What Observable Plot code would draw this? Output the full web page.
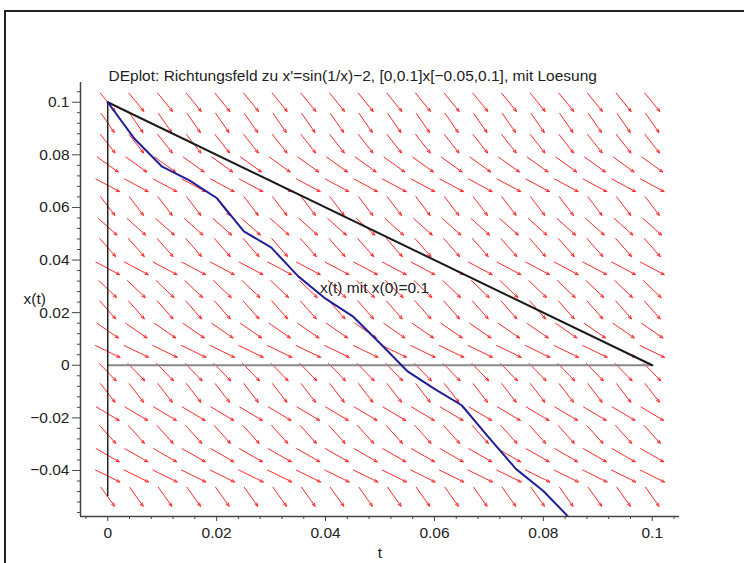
<!DOCTYPE html>
<html><head><meta charset="utf-8">
<script src="https://cdn.jsdelivr.net/npm/d3@7"></script>
<script src="https://cdn.jsdelivr.net/npm/@observablehq/plot@0.6"></script>
<style>
html,body{margin:0;padding:0;background:#fff;}
#wrap{position:relative;width:744px;height:563px;overflow:hidden;background:#fff;}
#bt{position:absolute;left:4px;top:10px;right:0;height:2px;background:#222;}
#bl{position:absolute;left:4px;top:10px;bottom:0;width:2px;background:#222;}
#chart{position:absolute;left:0;top:0;}
</style></head><body><div id="wrap"><div id="chart"></div><div id="bt"></div><div id="bl"></div></div>
<script>
// Direction field grid (t columns, x rows) and slope x' for each row
const fieldT = [0, 0.00526, 0.01053, 0.01579, 0.02105, 0.02632, 0.03158, 0.03684, 0.04211, 0.04737,
  0.05263, 0.05789, 0.06316, 0.06842, 0.07368, 0.07895, 0.08421, 0.08947, 0.09474, 0.1];
const fieldX = [-0.05, -0.04211, -0.03421, -0.02632, -0.01842, -0.01053, -0.00263, 0.00526, 0.01316, 0.02105,
  0.02895, 0.03684, 0.04474, 0.05263, 0.06053, 0.06842, 0.07632, 0.08421, 0.09211, 0.1];
const fieldSlope = [-2.913, -1.018, -1.183, -2.296, -1.230, -2.683, -2.132, -1.002, -1.434, -2.368,
  -1.987, -1.095, -2.354, -1.850, -2.727, -1.113, -1.488, -2.637, -2.990, -2.544];

// numeric solution x(t), x(0)=0.1
const solT = [0, 0.005, 0.01, 0.015, 0.02, 0.025, 0.03, 0.035, 0.04, 0.045, 0.05, 0.055, 0.06, 0.065, 0.07, 0.075, 0.08, 0.085];
const solX = [0.1, 0.0859, 0.0755, 0.0703, 0.0636, 0.0509, 0.0448, 0.0338, 0.0253, 0.0186, 0.0084, -0.0022, -0.0090, -0.0152, -0.0275, -0.0395, -0.0478, -0.0585];

// straight black line
const lineT = [0, 0.1];
const lineX = [0.1, 0];

const xTicks = [0, 0.02, 0.04, 0.06, 0.08, 0.1];
const yTicks = [-0.04, -0.02, 0, 0.02, 0.04, 0.06, 0.08, 0.1];
const tDomain = [-0.005, 0.105];
const xDomain = [-0.0575, 0.1075];

const titleText = "DEplot: Richtungsfeld zu x'=sin(1/x)\u22122, [0,0.1]x[\u22120.05,0.1], mit Loesung";
const curveLabel = "x(t) mit x(0)=0.1";
const curveLabelT = 0.049, curveLabelX = 0.0295;

// build arrows (normalized to view ranges, like Maple's dfieldplot)
const tSpan = 0.1, xSpan = 0.15, S = 0.054;
const arrows = [];
fieldX.forEach((x, i) => {
  const f = fieldSlope[i];
  const a = 1 / tSpan, b = f / xSpan, n = Math.hypot(a, b);
  const dt = S * (a / n) * tSpan, dx = S * (b / n) * xSpan;
  fieldT.forEach(t => arrows.push({x1: t - dt / 2, x2: t + dt / 2, y1: x - dx / 2, y2: x + dx / 2}));
});
const sol = solT.map((t, i) => ({t, x: solX[i]}));
const line = lineT.map((t, i) => ({t, x: lineX[i]}));

const xMinor = d3.range(-4, 106, 4).map(v => v / 1000).filter(v => Math.abs(v * 50 - Math.round(v * 50)) > 1e-6);
const yMinor = d3.range(-56, 106, 4).map(v => v / 1000).filter(v => Math.abs(v * 50 - Math.round(v * 50)) > 1e-6);
const fmt = d => (d < 0 ? "\u2212" + String(Math.abs(d)) : String(d));
const FS = 15.5;

const chart = Plot.plot({
  width: 744, height: 563,
  marginLeft: 80, marginRight: 65, marginTop: 82, marginBottom: 47,
  x: {domain: tDomain, label: null},
  y: {domain: xDomain, label: null},
  style: {fontFamily: "'Liberation Sans', Arial, Helvetica, sans-serif", fontSize: FS + "px", color: "#222", background: "transparent"},
  marks: [
    Plot.arrow(arrows, {x1: "x1", y1: "y1", x2: "x2", y2: "y2", stroke: "#ff2a2a", strokeWidth: 1, headLength: 5, headAngle: 45}),
    Plot.ruleY([0], {x1: fieldT[0], x2: fieldT[fieldT.length - 1], stroke: "#888", strokeWidth: 2}),
    Plot.ruleX([0], {y1: fieldX[0], y2: fieldX[fieldX.length - 1], stroke: "#222", strokeWidth: 1.5}),
    Plot.line(line, {x: "t", y: "x", stroke: "#1a1a1a", strokeWidth: 2}),
    Plot.line(sol, {x: "t", y: "x", stroke: "#1f1f9c", strokeWidth: 2, clip: true}),
    Plot.text([curveLabel], {x: () => curveLabelT, y: () => curveLabelX, text: d => d, fill: "#222", fontSize: FS}),
    Plot.ruleX([tDomain[0]], {stroke: "#444", strokeWidth: 1.5}),
    Plot.ruleY([xDomain[0]], {stroke: "#444", strokeWidth: 1.5}),
    Plot.axisY(yTicks, {anchor: "left", tickSize: 8, tickPadding: 3, tickFormat: fmt, stroke: "#444", fill: "#222", fontSize: FS, label: null}),
    Plot.axisY(yMinor, {anchor: "left", tickSize: 3, tickFormat: () => "", stroke: "#444", label: null}),
    Plot.axisX(xTicks, {anchor: "bottom", tickSize: 5, tickPadding: 5, tickFormat: fmt, stroke: "#444", fill: "#222", fontSize: FS, label: null}),
    Plot.axisX(xMinor, {anchor: "bottom", tickSize: 3, tickFormat: () => "", stroke: "#444", label: null}),
    Plot.text([titleText], {frameAnchor: "top-left", dx: 28, dy: -6, textAnchor: "start", lineAnchor: "middle", text: d => d, fill: "#222", fontSize: FS}),
    Plot.text(["x(t)"], {frameAnchor: "left", dx: -57, text: d => d, fill: "#222", fontSize: FS}),
    Plot.text(["t"], {frameAnchor: "bottom", dy: 37, lineAnchor: "middle", text: d => d, fill: "#222", fontSize: FS})
  ]
});
document.getElementById("chart").appendChild(chart);
</script></body></html>
